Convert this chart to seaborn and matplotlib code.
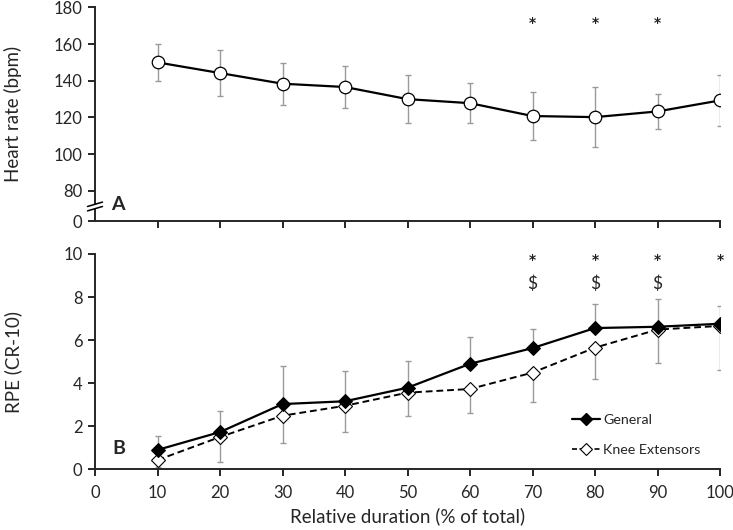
import matplotlib
matplotlib.use("Agg")
import matplotlib.pyplot as plt
import seaborn as sns
import numpy as np
import pandas as pd
from matplotlib.lines import Line2D

duration = [10, 20, 30, 40, 50, 60, 70, 80, 90, 100]
hr_mean = [150, 144.2, 138.4, 136.6, 130, 127.8, 120.8, 120.2, 123.3, 129.3]
hr_sd = [10, 12.5, 11.5, 11.3, 12.9, 11, 13, 16.5, 9.5, 13.7]
rpe_general = [0.90, 1.73, 3.03, 3.16, 3.79, 4.90, 5.63, 6.56, 6.62, 6.76]
rpe_general_sd = [0.66, 0.96, 1.77, 1.41, 1.23, 1.26, 0.89, 1.10, 1.29, 0.82]
rpe_knee = [0.43, 1.50, 2.49, 2.95, 3.56, 3.73, 4.49, 5.65, 6.49, 6.66]
rpe_knee_sd = [0.34, 1.17, 1.27, 1.22, 1.08, 1.12, 1.38, 1.47, 1.54, 2.06]
hr_star_x = [70, 80, 90]
rpe_star_x = [70, 80, 90, 100]
rpe_dollar_x = [70, 80, 90]
hr_ticks = [80, 100, 120, 140, 160, 180]
rpe_ticks = [0, 2, 4, 6, 8, 10]
x_ticks = [0, 10, 20, 30, 40, 50, 60, 70, 80, 90, 100]

sns.set_style("ticks")
plt.rcParams['font.family'] = ['Lato', 'DejaVu Sans']
plt.rcParams['axes.linewidth'] = 1.4
plt.rcParams['xtick.major.width'] = 1.4
plt.rcParams['ytick.major.width'] = 1.4
plt.rcParams['xtick.major.size'] = 5
plt.rcParams['ytick.major.size'] = 5
plt.rcParams['xtick.major.pad'] = 6
plt.rcParams['ytick.major.pad'] = 4

fig = plt.figure(figsize=(7.33, 5.30), dpi=100)
W, H = 733, 530
ax1 = fig.add_axes([95 / W, 1 - 221 / H, (720 - 95) / W, (221 - 7.3) / H])
ax2 = fig.add_axes([95 / W, 1 - 469.3 / H, (720 - 95) / W, (469.3 - 254) / H])

df_hr = pd.DataFrame({"x": duration, "y": hr_mean})
df_g = pd.DataFrame({"x": duration, "y": rpe_general})
df_k = pd.DataFrame({"x": duration, "y": rpe_knee})

err_color = "#9a9a9a"
tick_fs = 12
label_fs = 13.5
star_kw = dict(ha="center", va="center", fontsize=10, family="DejaVu Sans",
               fontweight="bold", color="#222222")

# ---- Panel A ----
ax1.errorbar(duration, hr_mean, yerr=hr_sd, fmt="none", ecolor=err_color,
             elinewidth=1.0, capsize=2.5, capthick=1.0, zorder=1)
sns.lineplot(data=df_hr, x="x", y="y", ax=ax1, color="black", linewidth=1.6,
             marker="o", markersize=9, markerfacecolor="white",
             markeredgecolor="black", markeredgewidth=0.9, zorder=3)
ybot = 80 - 30 / 36.68 * 20
ax1.set_xlim(0, 100)
ax1.set_ylim(ybot, 180)
ax1.set_yticks([ybot] + hr_ticks)
ax1.set_yticklabels(["0"] + [str(t) for t in hr_ticks], fontsize=tick_fs)
ax1.set_xticks(x_ticks[1:])
ax1.set_xticklabels([])
ax1.set_xlabel("")
ax1.set_ylabel("Heart rate (bpm)", fontsize=label_fs)
for s in ["top", "right"]:
    ax1.spines[s].set_visible(False)
for xs in hr_star_x:
    ax1.text(xs, 171.5, "*", **star_kw)
ax1.text(3.7, 72.7, "A", ha="center", va="center", fontsize=14, fontweight="bold")
# axis break marks
ybreak = 80 - 15.5 / 36.68 * 20
trans = ax1.get_yaxis_transform()
ax1.plot([0, 0], [ybreak - 1.2, ybreak + 1.2], transform=trans, color="white",
         linewidth=3, zorder=5, clip_on=False, solid_capstyle="butt")
for dy in (-1.2, 1.2):
    ax1.plot([-0.012, 0.012], [ybreak + dy - 1.2, ybreak + dy + 1.2],
             transform=trans, color="black", linewidth=1.1, zorder=6, clip_on=False)

# ---- Panel B ----
ax2.errorbar(duration, rpe_general,
             yerr=[np.zeros(len(rpe_general_sd)), rpe_general_sd],
             fmt="none", ecolor=err_color, elinewidth=1.0, capsize=2.5,
             capthick=1.0, zorder=1)
ax2.errorbar(duration, rpe_knee,
             yerr=[rpe_knee_sd, np.zeros(len(rpe_knee_sd))],
             fmt="none", ecolor=err_color, elinewidth=1.0, capsize=2.5,
             capthick=1.0, zorder=1)
sns.lineplot(data=df_k, x="x", y="y", ax=ax2, color="black", linewidth=1.4,
             linestyle=(0, (3.5, 2)), marker="D", markersize=7,
             markerfacecolor="white", markeredgecolor="black",
             markeredgewidth=0.8, zorder=3)
sns.lineplot(data=df_g, x="x", y="y", ax=ax2, color="black", linewidth=1.6,
             marker="D", markersize=7, markerfacecolor="black",
             markeredgecolor="black", zorder=4)
ax2.set_xlim(0, 100)
ax2.set_ylim(0, 10)
ax2.set_yticks(rpe_ticks)
ax2.set_yticklabels([str(t) for t in rpe_ticks], fontsize=tick_fs)
ax2.set_xticks(x_ticks)
ax2.set_xticklabels([str(t) for t in x_ticks], fontsize=tick_fs)
ax2.set_xlabel("Relative duration (% of total)", fontsize=label_fs, labelpad=5)
ax2.set_ylabel("RPE (CR-10)", fontsize=label_fs)
for s in ["top", "right"]:
    ax2.spines[s].set_visible(False)
for xs in rpe_star_x:
    ax2.text(xs, 9.74, "*", **star_kw)
for xs in rpe_dollar_x:
    ax2.text(xs, 8.6, "$", ha="center", va="center", fontsize=12.5)
ax2.text(3.8, 0.95, "B", ha="center", va="center", fontsize=14, fontweight="bold")

handles = [
    Line2D([], [], color="black", linewidth=1.6, marker="D", markersize=6,
           markerfacecolor="black"),
    Line2D([], [], color="black", linewidth=1.2, linestyle=(0, (3, 1.5)),
           marker="D", markersize=6, markerfacecolor="white", markeredgewidth=0.8),
]
ax2.legend(handles, ["General", "Knee Extensors"], loc="lower left",
           bbox_to_anchor=(0.742, 0.0), frameon=False, fontsize=10.3,
           handlelength=2.0, handletextpad=0.2, labelspacing=1.3)

for ax in (ax1, ax2):
    ax.yaxis.set_label_coords(-0.116, 0.5)

fig.savefig("out.png", dpi=100)
